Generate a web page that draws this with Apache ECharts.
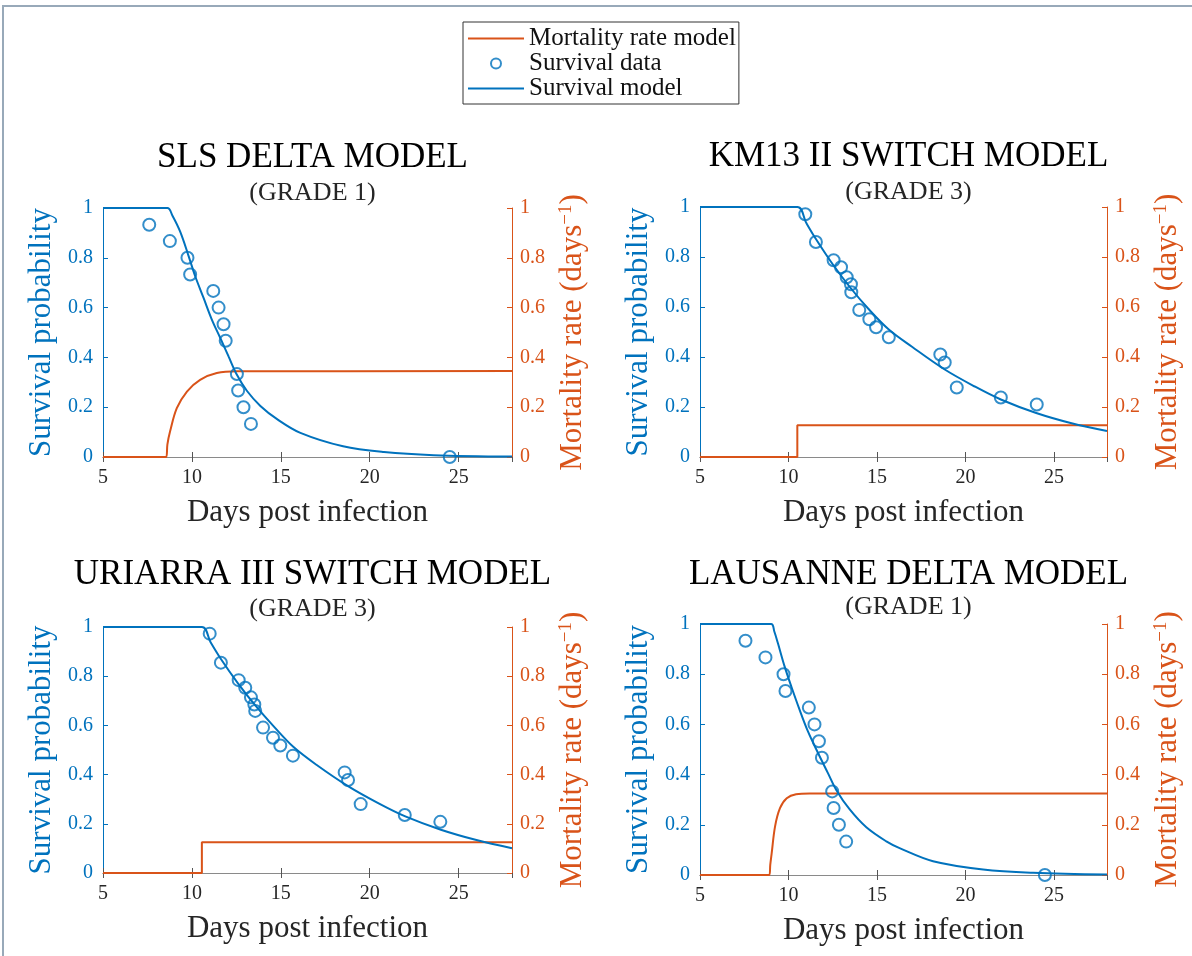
<!DOCTYPE html>
<html>
<head>
<meta charset="utf-8">
<script src="https://cdn.jsdelivr.net/npm/echarts@6/dist/echarts.min.js"></script>
<style>
  html, body { margin: 0; padding: 0; background: #fff; }
  #frame { position: absolute; left: 2px; top: 5px; width: 1200px; height: 960px;
           border-top: 2px solid #98a9b9; border-left: 2px solid #98a9b9; }
  #main { position: absolute; left: 0; top: 0; width: 1192px; height: 956px; }
</style>
</head>
<body>
<div id="frame"></div>
<div id="main"></div>
<script>
// colours (matlab defaults)
const BLUE = '#0072BD';
const ORANGE = '#D95319';
const INK = '#262626';
const FONT = 'Liberation Serif';

// ---- SLS delta model (grade 1)
const slsDays = [7.6, 8.76, 9.75, 9.9, 11.2, 11.5, 11.78, 11.9, 12.53, 12.6, 12.9, 13.32, 24.5];
const slsSurvival = [0.933, 0.867, 0.8, 0.733, 0.667, 0.6, 0.533, 0.467, 0.333, 0.267, 0.2, 0.133, 0];
const slsModelDays = [5, 8.62, 8.9, 9.34, 9.81, 10.18, 10.65, 11.12, 11.59, 12.06, 12.53, 13.1, 13.85, 14.79, 16.1, 18.5, 20.8, 23.6, 28];
const slsModelSurvival = [1, 1, 0.97, 0.905, 0.808, 0.727, 0.64, 0.552, 0.479, 0.404, 0.33, 0.265, 0.205, 0.152, 0.097, 0.043, 0.02, 0.0075, 0.0017];
const slsRateDays = [5, 8.55, 8.62, 8.77, 9.15, 9.72, 10.46, 11.4, 12.53, 28];
const slsRate = [0, 0, 0.05, 0.102, 0.196, 0.263, 0.31, 0.337, 0.344, 0.345];

// ---- KM13 II switch model (grade 3)
const km13Days = [10.95, 11.55, 12.55, 12.97, 13.29, 13.53, 13.55, 14.0, 14.57, 14.95, 15.67, 18.58, 18.83, 19.51, 22.0, 24.03];
const km13Survival = [0.971, 0.86, 0.787, 0.759, 0.719, 0.691, 0.659, 0.588, 0.551, 0.519, 0.479, 0.41, 0.378, 0.278, 0.238, 0.21];
const km13ModelDays = [5, 10.5, 11, 11.55, 12.5, 13.5, 14.5, 15.67, 17, 18.83, 20.5, 22, 24, 26, 28];
const km13ModelSurvival = [1, 1, 0.937, 0.872, 0.771, 0.677, 0.594, 0.51, 0.44, 0.35, 0.283, 0.23, 0.176, 0.135, 0.104];
const km13RateDays = [5, 10.5, 10.5, 28];
const km13Rate = [0, 0, 0.127, 0.127];

// ---- Uriarra III switch model (grade 3)
const uriDays = [11.0, 11.63, 12.63, 13.0, 13.32, 13.51, 13.56, 14.0, 14.56, 14.97, 15.68, 18.59, 18.78, 19.49, 21.97, 23.97];
const uriSurvival = [0.973, 0.855, 0.784, 0.753, 0.714, 0.685, 0.659, 0.591, 0.55, 0.518, 0.477, 0.409, 0.378, 0.28, 0.236, 0.208];
const uriModelDays = [5, 10.56, 11.05, 11.63, 12.6, 13.6, 14.6, 15.7, 17, 18.8, 20.5, 22, 24, 26, 28];
const uriModelSurvival = [1, 1, 0.938, 0.87, 0.77, 0.678, 0.596, 0.513, 0.44, 0.352, 0.283, 0.23, 0.176, 0.134, 0.101];
const uriRateDays = [5, 10.56, 10.56, 28];
const uriRate = [0, 0, 0.125, 0.125];

// ---- Lausanne delta model (grade 1)
const lauDays = [7.57, 8.7, 9.72, 9.83, 11.15, 11.47, 11.72, 11.89, 12.47, 12.55, 12.85, 13.26, 24.49];
const lauSurvival = [0.933, 0.867, 0.8, 0.733, 0.667, 0.6, 0.533, 0.467, 0.333, 0.267, 0.2, 0.133, 0];
const lauModelDays = [5, 9.02, 9.2, 9.4, 9.78, 10.16, 10.63, 11.1, 11.67, 12.23, 12.7, 13.45, 14.4, 15.53, 16.28, 18.17, 21, 23.83, 28];
const lauModelSurvival = [1, 1, 0.97, 0.924, 0.831, 0.751, 0.658, 0.572, 0.486, 0.406, 0.339, 0.262, 0.19, 0.134, 0.107, 0.055, 0.022, 0.009, 0.002];
const lauRateDays = [5, 8.92, 8.97, 9.05, 9.24, 9.52, 9.9, 10.43, 11.19, 28];
const lauRate = [0, 0, 0.04, 0.086, 0.193, 0.266, 0.306, 0.322, 0.325, 0.325];

const legendNames = ['Mortality rate model', 'Survival data', 'Survival model'];

function pairs(xs, ys) {
  return xs.map((x, i) => [x, ys[i]]);
}

const panels = [
  { title: 'SLS DELTA MODEL', grade: '(GRADE 1)', titleTop: 135, gradeTop: 175,
    grid: { left: 103, top: 208, width: 409, height: 249 },
    data: pairs(slsDays, slsSurvival), model: pairs(slsModelDays, slsModelSurvival),
    rate: pairs(slsRateDays, slsRate), smoothRate: true },
  { title: 'KM13 II SWITCH MODEL', grade: '(GRADE 3)', titleTop: 134, gradeTop: 174,
    grid: { left: 700, top: 207, width: 407, height: 250 },
    data: pairs(km13Days, km13Survival), model: pairs(km13ModelDays, km13ModelSurvival),
    rate: pairs(km13RateDays, km13Rate), smoothRate: false },
  { title: 'URIARRA III SWITCH MODEL', grade: '(GRADE 3)', titleTop: 552, gradeTop: 591,
    grid: { left: 103, top: 627, width: 409, height: 246 },
    data: pairs(uriDays, uriSurvival), model: pairs(uriModelDays, uriModelSurvival),
    rate: pairs(uriRateDays, uriRate), smoothRate: false },
  { title: 'LAUSANNE DELTA MODEL', grade: '(GRADE 1)', titleTop: 552, gradeTop: 589,
    grid: { left: 700, top: 624, width: 407, height: 251 },
    data: pairs(lauDays, lauSurvival), model: pairs(lauModelDays, lauModelSurvival),
    rate: pairs(lauRateDays, lauRate), smoothRate: true }
];

let grids = [], xAxes = [], yAxes = [], series = [], titles = [];

panels.forEach((p, i) => {
  grids.push(p.grid);
  const cx = p.grid.left + p.grid.width / 2;

  titles.push({
    text: p.title, left: cx, top: p.titleTop, textAlign: 'center',
    textStyle: { fontFamily: FONT, fontSize: 35, lineHeight: 35, fontWeight: 'normal', color: '#000' }
  });
  titles.push({
    text: p.grade, left: cx, top: p.gradeTop, textAlign: 'center',
    textStyle: { fontFamily: FONT, fontSize: 26, lineHeight: 26, fontWeight: 'normal', color: INK }
  });

  // bottom x axis
  xAxes.push({
    gridIndex: i, type: 'value', min: 5, max: 28, interval: 5, position: 'bottom',
    axisLine: { show: true, lineStyle: { color: '#8a8a8a', width: 1 } },
    axisTick: { show: true, inside: true, length: 5, lineStyle: { color: '#555' } },
    axisLabel: { color: INK, fontFamily: FONT, fontSize: 20, margin: 11, showMaxLabel: false },
    splitLine: { show: false },
    name: 'Days post infection', nameLocation: 'middle', nameGap: 40,
    nameTextStyle: { color: INK, fontFamily: FONT, fontSize: 31 }
  });
  // top x axis (box)
  xAxes.push({
    gridIndex: i, type: 'value', min: 5, max: 28, interval: 5, position: 'top',
    axisLine: { show: true, lineStyle: { color: '#8a8a8a', width: 1 } },
    axisTick: { show: true, inside: true, length: 5, lineStyle: { color: '#555' } },
    axisLabel: { show: false },
    splitLine: { show: false }
  });
  // left y axis - survival
  yAxes.push({
    gridIndex: i, type: 'value', min: 0, max: 1, interval: 0.2, position: 'left',
    axisLine: { show: true, lineStyle: { color: BLUE, width: 1 } },
    axisTick: { show: true, inside: true, length: 5, lineStyle: { color: BLUE } },
    axisLabel: { color: BLUE, fontFamily: FONT, fontSize: 20, margin: 10 },
    splitLine: { show: false },
    name: 'Survival probability', nameLocation: 'middle', nameRotate: 90, nameGap: 46,
    nameTextStyle: { color: BLUE, fontFamily: FONT, fontSize: 31 }
  });
  // right y axis - mortality
  yAxes.push({
    gridIndex: i, type: 'value', min: 0, max: 1, interval: 0.2, position: 'right',
    axisLine: { show: true, lineStyle: { color: ORANGE, width: 1 } },
    axisTick: { show: true, inside: true, length: 5, lineStyle: { color: ORANGE } },
    axisLabel: { color: ORANGE, fontFamily: FONT, fontSize: 20, margin: 8 },
    splitLine: { show: false },
    name: 'Mortality rate (days{s|\u22121})', nameLocation: 'middle', nameRotate: 90, nameGap: 45,
    nameTextStyle: {
      color: ORANGE, fontFamily: FONT, fontSize: 31, lineHeight: 32,
      rich: { s: { color: ORANGE, fontFamily: FONT, fontSize: 19, lineHeight: 32, verticalAlign: 'top' } }
    }
  });

  series.push({
    name: legendNames[0], type: 'line',
    xAxisIndex: 2 * i, yAxisIndex: 2 * i + 1,
    data: p.rate, symbol: 'none', smooth: p.smoothRate ? 0.35 : false,
    lineStyle: { color: ORANGE, width: 2 }, itemStyle: { color: ORANGE }
  });
  series.push({
    name: legendNames[1], type: 'scatter',
    xAxisIndex: 2 * i, yAxisIndex: 2 * i,
    data: p.data, symbol: 'circle', symbolSize: 12,
    itemStyle: { color: 'transparent', borderColor: BLUE, borderWidth: 2 }, z: 4
  });
  series.push({
    name: legendNames[2], type: 'line',
    xAxisIndex: 2 * i, yAxisIndex: 2 * i,
    data: p.model, symbol: 'none', smooth: 0.35,
    lineStyle: { color: BLUE, width: 2 }, itemStyle: { color: BLUE }
  });
});

// line entries in the legend: hide the marker dot, keep only the stroke
const noDot = { color: 'transparent', borderColor: 'transparent', borderWidth: 0, opacity: 0 };

const chart = echarts.init(document.getElementById('main'), null, { renderer: 'canvas' });
chart.setOption({
  backgroundColor: 'transparent',
  animation: false,
  title: titles,
  legend: {
    orient: 'vertical', left: 463, top: 22,
    padding: [4, 3, 3, 4], itemGap: 0, itemWidth: 56, itemHeight: 10,
    borderColor: '#333', borderWidth: 1, backgroundColor: '#fff',
    data: [
      { name: legendNames[0], itemStyle: noDot },
      { name: legendNames[1] },
      { name: legendNames[2], itemStyle: noDot }
    ],
    textStyle: { fontFamily: FONT, fontSize: 25, lineHeight: 25, color: '#111' }
  },
  grid: grids,
  xAxis: xAxes,
  yAxis: yAxes,
  series: series
});
</script>
</body>
</html>
